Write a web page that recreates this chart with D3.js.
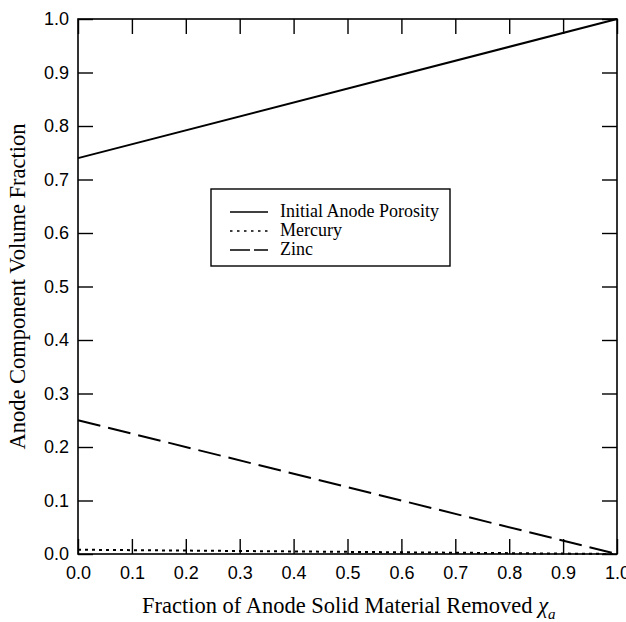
<!DOCTYPE html>
<html>
<head>
<meta charset="utf-8">
<script src="https://cdn.jsdelivr.net/npm/d3@7"></script>
<style>
  html, body { margin: 0; padding: 0; background: #fff; }
  svg { display: block; }
</style>
</head>
<body>
<svg id="chart" width="626" height="622"></svg>
<script>
// Fraction of anode solid material removed
const xValues = [0.0, 1.0];
// Volume fractions of each anode component
const porosity = [0.74, 1.0];
const mercury  = [0.008, 0.0];
const zinc     = [0.25, 0.0];

const seriesNames = ["Initial Anode Porosity", "Mercury", "Zinc"];
const tickValues = [0.0, 0.1, 0.2, 0.3, 0.4, 0.5, 0.6, 0.7, 0.8, 0.9, 1.0];

const margin = { left: 78, right: 9, top: 19, bottom: 68 };
const W = 626, H = 622;
const svg = d3.select("#chart");

const x = d3.scaleLinear().domain([0, 1]).range([margin.left, W - margin.right]);
const y = d3.scaleLinear().domain([0, 1]).range([H - margin.bottom, margin.top]);

const tickLen = 15;
const tickFont = "Liberation Sans, Arial, sans-serif";
const titleFont = "Liberation Serif, Times New Roman, serif";

// Axes with inward ticks on all four sides
const axB = d3.axisBottom(x).tickValues(tickValues).tickFormat(d3.format(".1f")).tickSizeInner(-tickLen).tickSizeOuter(0).tickPadding(12);
const axL = d3.axisLeft(y).tickValues(tickValues).tickFormat(d3.format(".1f")).tickSizeInner(-tickLen).tickSizeOuter(0).tickPadding(9);
const axT = d3.axisTop(x).tickValues(tickValues).tickFormat("").tickSizeInner(-tickLen).tickSizeOuter(0);
const axR = d3.axisRight(y).tickValues(tickValues).tickFormat("").tickSizeInner(-tickLen).tickSizeOuter(0);

function styleAxis(g) {
  g.select(".domain").remove();
  g.selectAll(".tick line").attr("stroke", "#000").attr("stroke-width", 1.4);
  g.selectAll(".tick text").attr("fill", "#000").attr("font-family", tickFont).attr("font-size", 18);
}

svg.append("g").attr("transform", `translate(0,${y(0)})`).call(axB).call(styleAxis);
svg.append("g").attr("transform", `translate(${x(0)},0)`).call(axL).call(styleAxis);
svg.append("g").attr("transform", `translate(0,${y(1)})`).call(axT).call(styleAxis);
svg.append("g").attr("transform", `translate(${x(1)},0)`).call(axR).call(styleAxis);

// Plot frame
svg.append("rect")
  .attr("x", x(0)).attr("y", y(1))
  .attr("width", x(1) - x(0)).attr("height", y(0) - y(1))
  .attr("fill", "none").attr("stroke", "#000").attr("stroke-width", 1.6);

// Data lines
const styles = [
  { data: porosity, dash: null,   legendDash: null,      width: 2 },
  { data: mercury,  dash: "3,4",  legendDash: "2.5,4.5", width: 2 },
  { data: zinc,     dash: "23,8", legendDash: "20,4",    width: 2 }
];
const line = d3.line().x(d => x(d[0])).y(d => y(d[1]));
styles.forEach(s => {
  svg.append("path")
    .datum(xValues.map((v, i) => [v, s.data[i]]))
    .attr("d", line)
    .attr("fill", "none")
    .attr("stroke", "#000")
    .attr("stroke-width", s.width)
    .attr("stroke-dasharray", s.dash);
});

// Legend
const lg = svg.append("g");
lg.append("rect")
  .attr("x", 211).attr("y", 189).attr("width", 239).attr("height", 77)
  .attr("fill", "#fff").attr("stroke", "#000").attr("stroke-width", 1.4);
styles.forEach((s, i) => {
  const ly = 212 + i * 19;
  lg.append("line")
    .attr("x1", 230).attr("x2", 268).attr("y1", ly).attr("y2", ly)
    .attr("stroke", "#000").attr("stroke-width", 1.6)
    .attr("stroke-dasharray", s.legendDash);
  lg.append("text")
    .attr("x", 280).attr("y", ly + 5)
    .attr("font-family", titleFont).attr("font-size", 18).attr("fill", "#000")
    .text(seriesNames[i]);
});

// Axis titles
const xt = svg.append("text")
  .attr("x", 142).attr("y", 613)
  .attr("font-family", titleFont).attr("font-size", 22.5).attr("fill", "#000");
xt.append("tspan").text("Fraction of Anode Solid Material Removed ");
xt.append("tspan").attr("font-style", "italic").text("χ");
xt.append("tspan").attr("font-style", "italic").attr("font-size", 15).attr("dy", 6).text("a");

svg.append("text")
  .attr("transform", `translate(25,${(y(0) + y(1)) / 2}) rotate(-90)`)
  .attr("text-anchor", "middle")
  .attr("font-family", titleFont).attr("font-size", 22.5).attr("fill", "#000")
  .text("Anode Component Volume Fraction");
</script>
</body>
</html>
